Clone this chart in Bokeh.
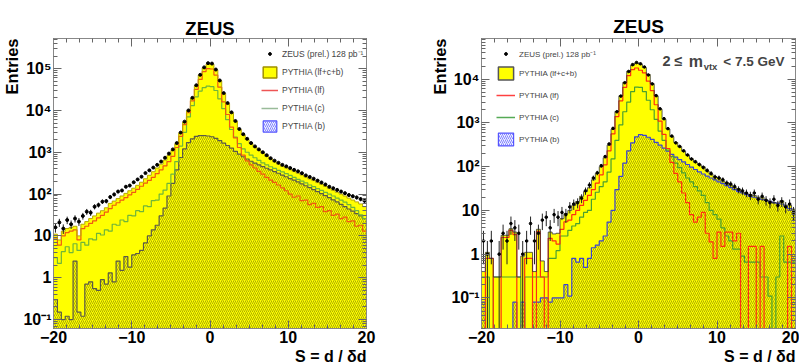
import numpy as np
from bokeh.plotting import figure
from bokeh.layouts import row
from bokeh.models import (LogAxis, LinearAxis, FixedTicker, Label, Legend, LegendItem,
                          CustomJSTickFormatter, Title)
from bokeh.embed import file_html
from bokeh.resources import INLINE

FONT = "Liberation Sans"
FLOOR = 1e-4

# ---------------- data (80 bins of width 0.5 from -20 to 20) ----------------
S_EDGES = np.linspace(-20, 20, 81)
S_CENTERS = 0.5 * (S_EDGES[:-1] + S_EDGES[1:])

X_MAJOR = [-20, -10, 0, 10, 20]
Y_LABELS_LEFT = [0.1, 1, 10, 100, 1000, 10000, 100000]
Y_LABELS_RIGHT = [0.1, 1, 10, 100, 1000, 10000]

TITLE = "ZEUS"
Y_TITLE = "Entries"
X_TITLE = "S = d / \u03b4d"
LEGEND_LABELS = ["ZEUS (prel.) 128 pb\u207b\u00b9", "PYTHIA (lf+c+b)", "PYTHIA (lf)",
                 "PYTHIA (c)", "PYTHIA (b)"]

# left panel (inclusive)
L_data = [16, 21, 15, 24, 19, 26, 22, 30, 38, 36,
          50, 55, 66, 68, 85, 98, 115, 122, 150, 160,
          192, 224, 260, 318, 370, 430, 500, 600, 740, 930,
          1170, 1660, 2950, 5400, 10000, 20000, 40000, 71000, 107000, 135000,
          132000, 95000, 52000, 26000, 15000, 9000, 5600, 3600, 2700, 2100,
          1660, 1380, 1170, 1000, 850, 720, 630, 560, 500, 460,
          420, 380, 350, 316, 280, 257, 234, 210, 190, 170,
          150, 138, 126, 115, 105, 95, 89, 83, 76, 69]
L_total = [11, 8, 13, 15, 16, 17, 10, 19, 22, 26,
           30, 35, 40, 47, 60, 68, 78, 90, 104, 120,
           138, 162, 192, 232, 282, 342, 420, 520, 650, 840,
           1100, 1600, 2900, 5300, 9800, 19500, 39000, 70000, 105000, 128000,
           128000, 93000, 51000, 25500, 14500, 8800, 5500, 3500, 2600, 2000,
           1600, 1320, 1120, 950, 800, 680, 590, 520, 460, 420,
           380, 345, 315, 285, 255, 230, 210, 188, 170, 152,
           135, 122, 110, 100, 90, 80, 72, 65, 58, 50]
L_lf = [9, 6, 10, 12, 13, 14, 8, 15, 17, 20,
        23, 27, 31, 37, 45, 54, 62, 72, 82, 96,
        110, 130, 154, 182, 212, 252, 310, 380, 470, 600,
        800, 1300, 2400, 4600, 8800, 17000, 32000, 55000, 85000, 100000,
        98000, 70000, 36000, 16000, 8000, 4000, 2200, 1300, 850, 620,
        500, 420, 350, 300, 250, 215, 190, 165, 140, 120,
        100, 84, 90, 70, 72, 56, 60, 48, 50, 38,
        40, 31, 33, 26, 28, 22, 23, 17, 18, 13]
L_c = [3, 2.2, 4.2, 5.5, 4, 6.5, 4.5, 7, 6, 8.5,
       8, 11.5, 10.5, 14, 13, 19, 18, 24, 22, 31,
       30, 40, 38, 52, 50, 70, 72, 100, 125, 180,
       300, 600, 1400, 3000, 7000, 13000, 21000, 29000, 35000, 38000,
       37000, 30000, 19000, 11000, 6000, 3500, 2300, 1600, 1200, 1000,
       850, 740, 640, 560, 500, 450, 410, 370, 340, 310,
       280, 250, 225, 205, 185, 165, 150, 135, 122, 110,
       100, 90, 80, 72, 64, 56, 48, 40, 32, 26]
L_b = [0.3, 0.15, 0.1, 0.12, 0.1, 2.5, 0.15, 0.12, 0.7, 0.8,
       0.55, 0.5, 0.9, 0.7, 1.3, 0.8, 2.5, 1.5, 3.2, 1.8,
       3.5, 3.8, 4.5, 6.8, 10, 14, 18, 30, 46, 90,
       180, 380, 750, 1200, 1700, 2100, 2400, 2500, 2500, 2450,
       2350, 2150, 1900, 1650, 1450, 1250, 1050, 900, 780, 690,
       610, 550, 500, 455, 415, 380, 345, 315, 285, 260,
       235, 215, 195, 175, 158, 142, 128, 115, 103, 92,
       82, 73, 65, 57, 50, 44, 39, 34, 30, 26]

# right panel (2 <= m_vtx < 7.5 GeV)
R_data = [2, 1, 2, 0, 1, 3, 2, 5, 4, 3,
          1, 2, 5, 2, 3, 6, 7, 4, 8, 7,
          9, 8, 12, 14, 15, 19, 28, 38, 55, 72,
          105, 170, 330, 750, 1800, 4100, 8300, 15000, 21500, 24000,
          22500, 19000, 12500, 7800, 4200, 2100, 1250, 740, 500, 350,
          290, 230, 185, 150, 130, 112, 96, 82, 70, 58,
          55, 50, 42, 40, 35, 30, 28, 25, 22, 25,
          18, 21, 17, 15, 18, 13, 16, 12, 14, 9]
R_total = [0.4, 1.1, 0.8, 0.3, 0.3, 2.7, 2.7, 3.8, 3.2, 0.3,
           0.9, 1.1, 1.1, 0.4, 3.7, 0.7, 0.4, 3.2, 2.9, 3.0,
           6.5, 8.5, 10, 13, 16, 21, 27, 33, 50, 70,
           100, 160, 310, 720, 1830, 4160, 8400, 15200, 21000, 23500,
           22000, 18500, 12800, 7900, 4160, 2060, 1215, 725, 485, 355,
           285, 225, 182, 151, 126, 111, 99, 79, 67, 59,
           55, 47, 43, 38, 33, 31, 26, 24, 23, 22,
           20, 20, 17.3, 16.1, 15, 14.8, 16.6, 13.2, 13.2, 10.7]
R_lf = [0, 0.8, 0.8, 0, 0, 2.4, 2.4, 3.5, 2.8, 0,
        0, 0.8, 0.8, 0, 3.3, 0.3, 0, 2.3, 2.0, 1.7,
        3.7, 5.5, 6, 8, 10, 13, 17, 22, 30, 42,
        65, 110, 230, 560, 1400, 3200, 6500, 12000, 16500, 18000,
        16000, 14000, 9000, 5500, 2600, 1100, 550, 260, 125, 70,
        45, 25, 15, 8, 5.4, 7, 9, 3, 1.9, 0.8,
        3.2, 1.5, 3.2, 3.2, 2.0, 3.0, 0, 0, 1.5, 1.5,
        0, 1.5, 0, 0, 0, 0, 0, 0, 1.5, 0]
R_c = [0.3, 0.3, 0, 0.3, 0.3, 0.3, 0.3, 0.3, 0.3, 0.3,
       0, 0.3, 0.3, 0.3, 0.3, 0.3, 0.3, 0.8, 0.8, 1.2,
       2.6, 2.6, 3.5, 4.4, 5, 7, 9, 10, 18, 26,
       35, 45, 75, 150, 400, 900, 1800, 3000, 5200, 6600,
       6500, 5200, 3300, 2000, 1200, 650, 400, 240, 170, 120,
       95, 72, 55, 45, 35, 28, 22, 15, 10, 8,
       6.3, 4, 2.6, 2.0, 1.3, 1.3, 0.9, 0.66, 0.66, 0.66,
       0.66, 0.3, 0.3, 0.11, 0, 0.3, 2.6, 0.66, 0.66, 0.66]
R_b = [0.08, 0, 0, 0, 0, 0, 0, 0, 0.08, 0,
       0.08, 0, 0, 0.08, 0.08, 0.1, 0.1, 0.08, 0.1, 0.1,
       0.1, 0.2, 0.11, 0.8, 0.66, 0.8, 0.5, 0.8, 1.4, 1.6,
       2.0, 2.6, 5.4, 10, 30, 60, 120, 230, 350, 480,
       540, 520, 470, 420, 360, 310, 265, 225, 190, 165,
       145, 128, 112, 98, 86, 76, 68, 61, 55, 50,
       45, 41, 37, 33, 30, 27, 25, 23, 21, 20,
       19, 18, 17, 16, 15, 14.5, 14, 12.5, 11, 10]

# ---------------- helpers ----------------
SUP_JS = """
const e = Math.round(Math.log10(tick));
if (e === 0) return "1";
if (e === 1) return "10";
const sup = {"-": "\u207b", "0": "\u2070", "1": "\u00b9", "2": "\u00b2", "3": "\u00b3",
             "4": "\u2074", "5": "\u2075", "6": "\u2076", "7": "\u2077", "8": "\u2078", "9": "\u2079"};
let s = "";
for (const ch of String(e)) s += sup[ch];
return "10" + s;
"""


def step_xy(vals):
    v = np.maximum(np.asarray(vals, float), FLOOR)
    xs = np.repeat(S_EDGES, 2)[1:-1]
    ys = np.repeat(v, 2)
    return xs, ys


def bold_title(text, size, align, standoff=0):
    return Title(text=text, align=align, text_font=FONT, text_font_style="bold",
                 text_font_size=size, text_color="black", standoff=standoff)


def style_axes(p, y_major):
    x_minor = list(np.linspace(-20, 20, 25))
    y_minor = [k * 10.0 ** e for e in range(-3, 7) for k in range(2, 10)]
    xt = FixedTicker(ticks=X_MAJOR, minor_ticks=x_minor)
    yt = FixedTicker(ticks=y_major, minor_ticks=y_minor)
    p.xaxis.ticker = xt
    p.yaxis.ticker = yt
    p.yaxis.formatter = CustomJSTickFormatter(code=SUP_JS)
    top = LinearAxis(ticker=xt, formatter=CustomJSTickFormatter(code="return '';"))
    right = LogAxis(ticker=yt, formatter=CustomJSTickFormatter(code="return '';"))
    for ax in [p.xaxis[0], p.yaxis[0], top, right]:
        ax.major_tick_in = 8
        ax.major_tick_out = 0
        ax.minor_tick_in = 4
        ax.minor_tick_out = 0
        ax.axis_line_color = "#888888"
        ax.major_tick_line_color = "#666666"
        ax.minor_tick_line_color = "#666666"
        ax.major_label_text_font = FONT
        ax.major_label_text_font_style = "bold"
        ax.major_label_text_font_size = "16px"
        ax.major_label_text_color = "black"
        ax.major_label_standoff = 2
    for ax in [top, right]:
        ax.major_label_text_font_size = "1px"
        ax.major_label_standoff = 0
    p.add_layout(top, "above")
    p.add_layout(right, "right")
    p.xgrid.grid_line_color = None
    p.ygrid.grid_line_color = None
    p.outline_line_color = "#888888"


def draw_panel(p, total, lf, c, b, data, cols):
    xs, yt = step_xy(total)
    p.varea(x=xs, y1=FLOOR, y2=yt, fill_color="#ffff00")
    xb, yb = step_xy(b)
    p.varea(x=xb, y1=FLOOR, y2=yb, fill_color=None, fill_alpha=0,
            hatch_pattern="/", hatch_color="#8a8a00", hatch_alpha=0.7,
            hatch_scale=4, hatch_weight=1)
    p.line(xb, yb, line_color=cols["b"], line_width=1.2)
    xc, yc = step_xy(c)
    p.line(xc, yc, line_color=cols["c"], line_width=1.2)
    xl, yl = step_xy(lf)
    p.line(xl, yl, line_color=cols["lf"], line_width=1.2)
    p.line(xs, yt, line_color=cols["tot"], line_width=cols["totw"])
    d = np.asarray(data, float)
    m = d > 0
    err = np.sqrt(d[m])
    p.segment(x0=S_CENTERS[m], y0=np.maximum(d[m] - err, FLOOR),
              x1=S_CENTERS[m], y1=d[m] + err, line_color="#222222", line_width=1)
    p.scatter(S_CENTERS[m], d[m], marker="circle", size=cols["dot"],
              fill_color="black", line_color="black")


def add_legend(p, cols, loc_a, loc_b, gh, gw, spacing, fs):
    nan = [np.nan]
    r_d = p.scatter(x=nan, y=nan, marker="circle", fill_color="black", line_color="black")
    r_t = p.quad(left=nan, right=nan, top=nan, bottom=nan, fill_color="#ffff00",
                 line_color=cols["legbox"], line_width=1.5)
    r_l = p.line(x=nan, y=nan, line_color=cols["leglf"], line_width=1.5)
    r_c = p.line(x=nan, y=nan, line_color=cols["legc"], line_width=1.5)
    r_b = p.quad(left=nan, right=nan, top=nan, bottom=nan, fill_color="#eef0ff",
                 hatch_pattern="/", hatch_color="#6a6aff", hatch_scale=4, hatch_weight=0.8,
                 line_color="#5555ff", line_width=1.2)
    common = dict(padding=0, margin=0, label_standoff=4, label_text_font=FONT,
                  label_text_font_size=fs, label_text_color="#444444",
                  border_line_alpha=0, background_fill_alpha=0)
    lga = Legend(items=[LegendItem(label=LEGEND_LABELS[0], renderers=[r_d])],
                 location=loc_a, glyph_height=7, glyph_width=gw, label_height=7, **common)
    items = [LegendItem(label=t, renderers=[r]) for t, r in
             zip(LEGEND_LABELS[1:], [r_t, r_l, r_c, r_b])]
    lgb = Legend(items=items, location=loc_b, glyph_height=gh, glyph_width=gw,
                 label_height=gh, spacing=spacing, **common)
    p.add_layout(lga)
    p.add_layout(lgb)


# ---------------- left panel ----------------
p1 = figure(width=400, height=364, x_range=(-20, 20), y_range=(10 ** -1.214, 10 ** 5.72),
            y_axis_type="log", output_backend="svg", toolbar_location=None,
            min_border_left=52, min_border_right=34, min_border_top=33, min_border_bottom=36)
p1.title = bold_title(TITLE, "18.5px", "center", 0)
style_axes(p1, Y_LABELS_LEFT)
cols1 = dict(b="#5a5a48", c="#6fb53a", lf="#f05a10", tot="#b8a800", totw=1, dot=3.0,
             legbox="#a09000", leglf="#ee5555", legc="#99bb99")
draw_panel(p1, L_total, L_lf, L_c, L_b, L_data, cols1)
add_legend(p1, cols1, (208, 269), (208, 195), 14, 17, 4, "8.5px")
p1.add_layout(bold_title(Y_TITLE, "16.5px", "right"), "left")
p1.add_layout(bold_title(X_TITLE, "16px", "right"), "below")

# ---------------- right panel ----------------
p2 = figure(width=399, height=364, x_range=(-20, 20), y_range=(10 ** -1.70, 10 ** 4.93),
            y_axis_type="log", output_backend="svg", toolbar_location=None,
            min_border_left=81, min_border_right=4, min_border_top=38, min_border_bottom=34)
p2.title = bold_title(TITLE, "19px", "center", 3)
style_axes(p2, Y_LABELS_RIGHT)
cols2 = dict(b="#3a44d0", c="#4aa030", lf="#ff3010", tot="#333333", totw=0.8, dot=2.6,
             legbox="#555555", leglf="#ff4040", legc="#55aa55")
draw_panel(p2, R_total, R_lf, R_c, R_b, R_data, cols2)
add_legend(p2, cols2, (15, 269), (15, 181), 16, 19, 6, "8px")
p2.add_layout(bold_title(Y_TITLE, "16.5px", "right"), "left")
p2.add_layout(bold_title(X_TITLE, "16px", "right"), "below")

TXT = dict(text_baseline="middle", text_font=FONT, text_font_style="bold")
p2.add_layout(Label(x=3.06, y=10 ** 4.41, text="2 \u2264", text_align="left",
                    text_font_size="14.5px", **TXT))
p2.add_layout(Label(x=6.4, y=10 ** 4.41, text="m", text_align="left",
                    text_font_size="16px", **TXT))
p2.add_layout(Label(x=8.3, y=10 ** 4.28, text="vtx", text_align="left",
                    text_font_size="9.5px", **TXT))
p2.add_layout(Label(x=18.6, y=10 ** 4.41, text="< 7.5 GeV", text_align="right",
                    text_font_size="13.5px", **TXT))

layout = row(p1, p2)
open("out.html", "w").write(file_html(layout, INLINE))
